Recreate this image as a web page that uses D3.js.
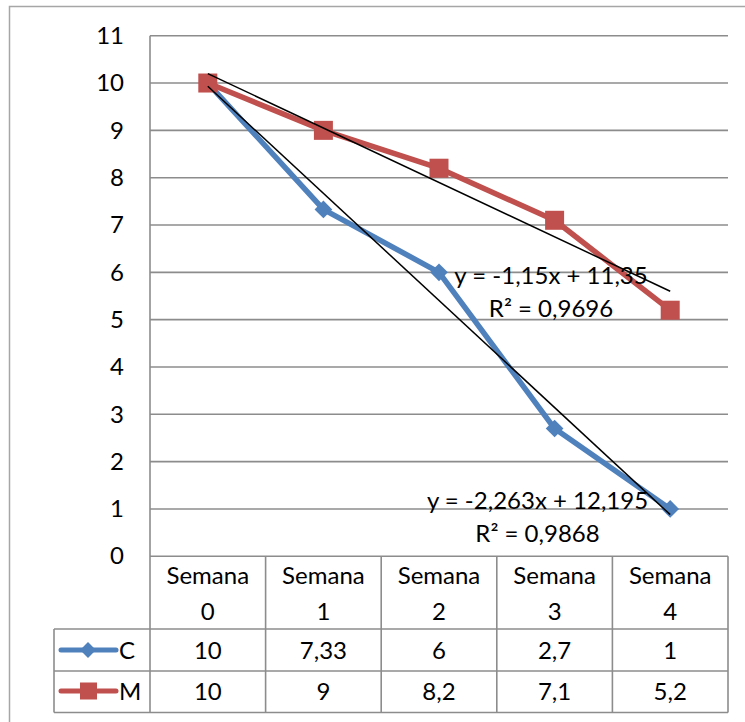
<!DOCTYPE html>
<html><head><meta charset="utf-8">
<script src="https://cdn.jsdelivr.net/npm/d3@7"></script>
<style>body{margin:0;background:#fff}svg{display:block}text{font-family:Lato,"Open Sans",sans-serif;fill:#000}</style>
</head><body>
<script>
const categories = ["Semana 0","Semana 1","Semana 2","Semana 3","Semana 4"];
const seriesNames = ["C","M"];
const valuesC = [10, 7.33, 6, 2.7, 1];
const valuesM = [10, 9, 8.2, 7.1, 5.2];
const labelsC = ["10","7,33","6","2,7","1"];
const labelsM = ["10","9","8,2","7,1","5,2"];
const trendC = {slope:-2.263, intercept:12.195, eq:"y = -2,263x + 12,195", r2:"R² = 0,9868"};
const trendM = {slope:-1.15, intercept:11.35, eq:"y = -1,15x + 11,35", r2:"R² = 0,9696"};
const yTicks = [0,1,2,3,4,5,6,7,8,9,10,11];

const W=745,H=722;
const svg=d3.select("body").append("svg").attr("width",W).attr("height",H);
const colC="#4f81bd", colM="#c0504d", grid="#8c8c8c";
const fs=24;

// outer frame
svg.append("rect").attr("x",9.5).attr("y",6.5).attr("width",800).attr("height",800)
  .attr("fill","none").attr("stroke","#a6a6a6").attr("stroke-width",1.5);

const x=d3.scaleBand().domain(categories).range([150,728]);
const y=d3.scaleLinear().domain([0,11]).range([556.3,35.7]);
const cx=c=>x(c)+x.bandwidth()/2;

// gridlines
svg.append("g").selectAll("line").data(yTicks).join("line")
  .attr("x1",150).attr("x2",728).attr("y1",d=>y(d)).attr("y2",d=>y(d))
  .attr("stroke",grid).attr("stroke-width",1.6);
// y axis labels
const yAxis=d3.axisLeft(y).tickValues(yTicks).tickSize(0).tickPadding(26).tickFormat(d3.format("d"));
const ga=svg.append("g").attr("transform","translate(150,0)").call(yAxis);
ga.select(".domain").remove();
ga.selectAll("text").attr("font-size",fs).style("font-family","Lato");

// table
const tg=svg.append("g").attr("stroke",grid).attr("stroke-width",1.6);
const colEdges=categories.map(c=>x(c)).concat([728]);
colEdges.forEach((cxv,i)=>{
  tg.append("line").attr("x1",cxv).attr("x2",cxv).attr("y1",i==0?35.7:556.3).attr("y2",712.5);
});
tg.append("line").attr("x1",54).attr("x2",54).attr("y1",629).attr("y2",712.5);
[629,671,712.5].forEach(v=>tg.append("line").attr("x1",54).attr("x2",728).attr("y1",v).attr("y2",v));

// header
categories.forEach(c=>{
  const parts=c.split(" ");
  svg.append("text").attr("x",cx(c)).attr("y",584).attr("text-anchor","middle").attr("font-size",fs).text(parts[0]);
  svg.append("text").attr("x",cx(c)).attr("y",620).attr("text-anchor","middle").attr("font-size",fs).text(parts[1]);
});
// data rows
const rows=[{name:"C",labels:labelsC,col:colC,ry:650,marker:"diamond"},{name:"M",labels:labelsM,col:colM,ry:691,marker:"square"}];
rows.forEach(r=>{
  r.labels.forEach((l,i)=>{
    svg.append("text").attr("x",cx(categories[i])).attr("y",r.ry+9).attr("text-anchor","middle").attr("font-size",fs).text(l);
  });
  svg.append("line").attr("x1",61).attr("x2",116).attr("y1",r.ry).attr("y2",r.ry).attr("stroke",r.col).attr("stroke-width",5).attr("stroke-linecap","round");
  if(r.marker=="diamond"){
    svg.append("path").attr("d",d3.symbol(d3.symbolDiamond2,160)()).attr("transform",`translate(88,${r.ry})`).attr("fill",r.col);
  } else {
    svg.append("rect").attr("x",80).attr("y",r.ry-8.5).attr("width",17).attr("height",17).attr("fill",r.col);
  }
  svg.append("text").attr("x",119).attr("y",r.ry+9).attr("font-size",fs).text(r.name);
});

// series lines
const line=d3.line().x((d,i)=>cx(categories[i])).y(d=>y(d));
svg.append("path").datum(valuesC).attr("d",line).attr("fill","none").attr("stroke",colC).attr("stroke-width",5.5).attr("stroke-linejoin","round");
svg.append("path").datum(valuesM).attr("d",line).attr("fill","none").attr("stroke",colM).attr("stroke-width",5.5).attr("stroke-linejoin","round");
// markers
svg.append("g").selectAll("path").data(valuesC).join("path")
  .attr("d",d3.symbol(d3.symbolDiamond2,200)())
  .attr("transform",(d,i)=>`translate(${cx(categories[i])},${y(d)})`).attr("fill",colC);
svg.append("g").selectAll("rect").data(valuesM).join("rect")
  .attr("x",(d,i)=>cx(categories[i])-9.5).attr("y",d=>y(d)-9.5).attr("width",19).attr("height",19).attr("fill",colM);

// trendlines
[trendC,trendM].forEach(t=>{
  const x0=1,x1=categories.length;
  svg.append("line").attr("x1",cx(categories[0])).attr("x2",cx(categories[categories.length-1]))
    .attr("y1",y(t.slope*x0+t.intercept)).attr("y2",y(t.slope*x1+t.intercept))
    .attr("stroke","#000").attr("stroke-width",1.5);
});
// trend labels
function tlabel(t,xc,yb){
  svg.append("text").attr("x",xc).attr("y",yb).attr("text-anchor","middle").attr("font-size",fs).text(t.eq);
  svg.append("text").attr("x",xc).attr("y",yb+33).attr("text-anchor","middle").attr("font-size",fs).text(t.r2);
}
tlabel(trendM,551,284);
tlabel(trendC,537.5,508.5);
</script>
</body></html>
